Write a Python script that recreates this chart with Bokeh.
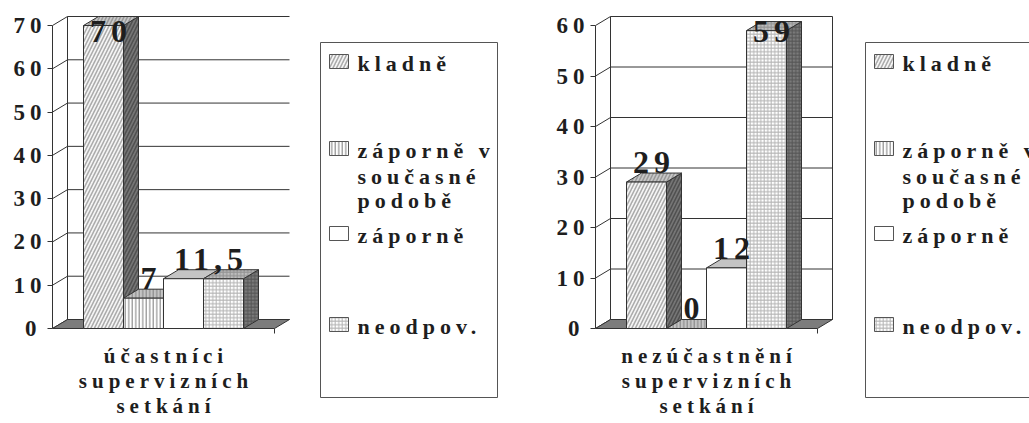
from bokeh.plotting import figure
from bokeh.layouts import row
from bokeh.models import Range1d, SingleIntervalTicker, InlineStyleSheet, ColumnDataSource
from bokeh.core.properties import value
from bokeh.embed import file_html
from bokeh.resources import INLINE

# ---------------- data ----------------
series_names = ["kladně", "záporně v současné podobě", "záporně", "neodpov."]
legend_lines = [["kladně"], ["záporně v", "současné", "podobě"], ["záporně"], ["neodpov."]]
group_names = ["účastníci supervizních setkání", "nezúčastnění supervizních setkání"]
group_lines = [["účastníci", "supervizních", "setkání"],
               ["nezúčastnění", "supervizních", "setkání"]]
values_participants = [70, 7, 11.5, 11.5]
values_nonparticipants = [29, 0, 12, 59]
labels_participants = ["70", "7", "11,5", "11,5"]
labels_nonparticipants = ["29", "0", "12", "59"]
axis_max = [70, 60]
tick_step = 10

# ---------------- styles ----------------
FONT = "Liberation Serif"
TXT = "#1e1e1e"
LS = 5          # letter spacing (px) applied by stylesheet
EDGE = "#333333"
# per series: (fill, hatch pattern, hatch colour, hatch scale, hatch weight) per face
FACE = {
    "front": [("#f6f6f6", "/", "#acacac", 7, 1.6), ("#ffffff", "|", "#7a7a7a", 3.5, 1),
              ("#ffffff", " ", "#ffffff", 4, 1), ("#ffffff", "+", "#b4b4b4", 3.5, 1)],
    "top":   [("#c8c8c8", "/", "#9a9a9a", 7, 1.6), ("#c4c4c4", "|", "#808080", 3.5, 1),
              ("#c4c4c4", " ", "#c4c4c4", 4, 1), ("#bdbdbd", "+", "#929292", 3.5, 1)],
    "side":  [("#767676", "/", "#505050", 7, 1.6), ("#808080", "|", "#555555", 3.5, 1),
              ("#808080", " ", "#808080", 4, 1), ("#7a7a7a", "+", "#555555", 3.5, 1)],
}

# ---------------- layout (px, from the page's top-left) ----------------
FIG_H = 423
ZERO_Y = 328        # px from figure top to value 0
TOP_Y = 25          # px from figure top to the max tick
BAR_GAP = 31
BAR_W = 40
FLOOR_W = 222
DX, DY = 15, 9
LEG_TOP, LEG_BOT = 42, 397
LEG_W = 177
LEG_BASE = [[70], [157, 183, 207], [242], [333]]
CAT_BASE = [362, 387, 412]
LABEL_CAP = 42
BASE_FIX = 0.33     # renderer puts alphabetic baseline this many em too low


def face_src(kind, xs, ys):
    st = FACE[kind]
    n = len(xs)
    return ColumnDataSource(dict(
        xs=xs, ys=ys,
        fill=[st[i][0] for i in range(n)],
        hp=[st[i][1] for i in range(n)],
        hc=[st[i][2] for i in range(n)],
        hs=[st[i][3] for i in range(n)],
        hw=[st[i][4] for i in range(n)],
    ))


def make_chart(values, labels, ymax, cat_lines, fig_w, border_left, leg_x, right_wall):
    s = (ZERO_Y - TOP_Y) / ymax          # px per value unit
    frame_w = fig_w - border_left
    p = figure(width=fig_w, height=FIG_H,
               x_range=Range1d(0, frame_w),
               y_range=Range1d(-(FIG_H - ZERO_Y) / s, ZERO_Y / s),
               output_backend="svg", toolbar_location=None, x_axis_location=None,
               min_border_left=border_left, min_border_right=0,
               min_border_top=0, min_border_bottom=0)
    p.outline_line_color = None
    p.grid.visible = False
    p.background_fill_color = "white"
    p.stylesheets = [InlineStyleSheet(css=":host { letter-spacing: %dpx; }" % LS)]

    def ypx(px_from_top, size=0):
        return (ZERO_Y - px_from_top + BASE_FIX * size) / s

    dy = DY / s
    ax = p.yaxis[0]
    ax.ticker = SingleIntervalTicker(interval=tick_step)
    ax.bounds = (0, ymax)
    ax.axis_line_color = EDGE
    ax.major_tick_line_color = EDGE
    ax.major_tick_out = 5
    ax.major_tick_in = 0
    ax.minor_tick_line_color = None
    ax.major_label_standoff = 11
    ax.major_label_text_font = FONT
    ax.major_label_text_font_style = "bold"
    ax.major_label_text_font_size = "23px"
    ax.major_label_text_color = TXT

    # walls / gridlines
    ticks = list(range(0, ymax + 1, tick_step))
    p.multi_line([[0, DX, DX + FLOOR_W] for t in ticks],
                 [[t, t + dy, t + dy] for t in ticks], line_color=EDGE, line_width=1)
    p.segment(x0=[DX], y0=[dy], x1=[DX], y1=[ymax + dy], line_color=EDGE, line_width=1)
    if right_wall:
        p.segment(x0=[DX + FLOOR_W], y0=[dy], x1=[DX + FLOOR_W], y1=[ymax + dy],
                  line_color=EDGE, line_width=1)
    # floor
    p.patch([0, FLOOR_W, FLOOR_W + DX, DX], [0, 0, dy, dy],
            fill_color="#7c7c7c", line_color=EDGE, line_width=1)
    p.segment(x0=[FLOOR_W], y0=[0], x1=[FLOOR_W], y1=[-5 / s], line_color=EDGE)

    # bars
    x0s = [BAR_GAP + i * BAR_W for i in range(len(values))]
    x1s = [x + BAR_W for x in x0s]
    side_xs = [[x1, x1 + DX, x1 + DX, x1] for x1 in x1s]
    side_ys = [[0, dy, v + dy, v] for v in values]
    top_xs = [[x0, x1, x1 + DX, x0 + DX] for x0, x1 in zip(x0s, x1s)]
    top_ys = [[v, v, v + dy, v + dy] for v in values]
    front_xs = [[x0, x1, x1, x0] for x0, x1 in zip(x0s, x1s)]
    front_ys = [[0, 0, v, v] for v in values]
    for kind, xs, ys in (("side", side_xs, side_ys), ("top", top_xs, top_ys),
                         ("front", front_xs, front_ys)):
        p.patches("xs", "ys", source=face_src(kind, xs, ys), fill_color="fill",
                  hatch_pattern="hp", hatch_color="hc", hatch_scale="hs",
                  hatch_weight="hw", line_color=EDGE, line_width=1)

    # value labels (equal adjacent values share one label)
    lx, ly, lt, lo = [], [], [], []
    i = 0
    while i < len(values):
        j = i
        while j + 1 < len(values) and values[j + 1] == values[i]:
            j += 1
        cx = (x0s[i] + x1s[j]) / 2 + 5
        lx.append(cx)
        base_px = max(ZERO_Y - values[i] * s - 9, LABEL_CAP)
        ly.append(ypx(base_px, 32))
        lt.append(labels[i])
        lo.append(-LS * (len(labels[i]) - 1) / 2)
        i = j + 1
    p.text(lx, ly, text=lt, x_offset=lo, text_align="center", text_baseline="alphabetic",
           text_font=value(FONT), text_font_style="bold", text_font_size="32px",
           text_color=TXT)

    # category label
    p.text([FLOOR_W / 2] * len(cat_lines), [ypx(b, 21) for b in CAT_BASE], text=cat_lines,
           x_offset=[-LS * (len(t) - 1) / 2 for t in cat_lines],
           text_align="center", text_baseline="alphabetic",
           text_font=value(FONT), text_font_style="bold", text_font_size="21px",
           text_color=TXT)

    # legend
    p.quad(left=[leg_x], right=[leg_x + LEG_W], top=[ypx(LEG_TOP)],
           bottom=[ypx(LEG_BOT)], fill_color="white", line_color="#555555",
           line_width=1)
    st = FACE["front"]
    p.quad(left=[leg_x + 9] * 4, right=[leg_x + 28] * 4,
           bottom=[ypx(b[0] - 2) for b in LEG_BASE], top=[ypx(b[0] - 16) for b in LEG_BASE],
           fill_color=[c[0] for c in st], hatch_pattern=[c[1] for c in st],
           hatch_color=[c[2] for c in st], hatch_scale=[c[3] for c in st],
           hatch_weight=[c[4] for c in st],
           line_color="#555555", line_width=1)
    tx, ty, tt = [], [], []
    for lines, bases in zip(legend_lines, LEG_BASE):
        for t, b in zip(lines, bases):
            tx.append(leg_x + 37)
            ty.append(ypx(b, 22))
            tt.append(t)
    p.text(tx, ty, text=tt, text_align="left", text_baseline="alphabetic",
           text_font=value(FONT), text_font_style="bold", text_font_size="22px",
           text_color=TXT)
    return p


p1 = make_chart(values_participants, labels_participants, axis_max[0], group_lines[0],
                548, 52, 268, False)
p2 = make_chart(values_nonparticipants, labels_nonparticipants, axis_max[1], group_lines[1],
                481, 47, 270, True)
layout = row(p1, p2)
open("out.html", "w").write(file_html(layout, INLINE))
